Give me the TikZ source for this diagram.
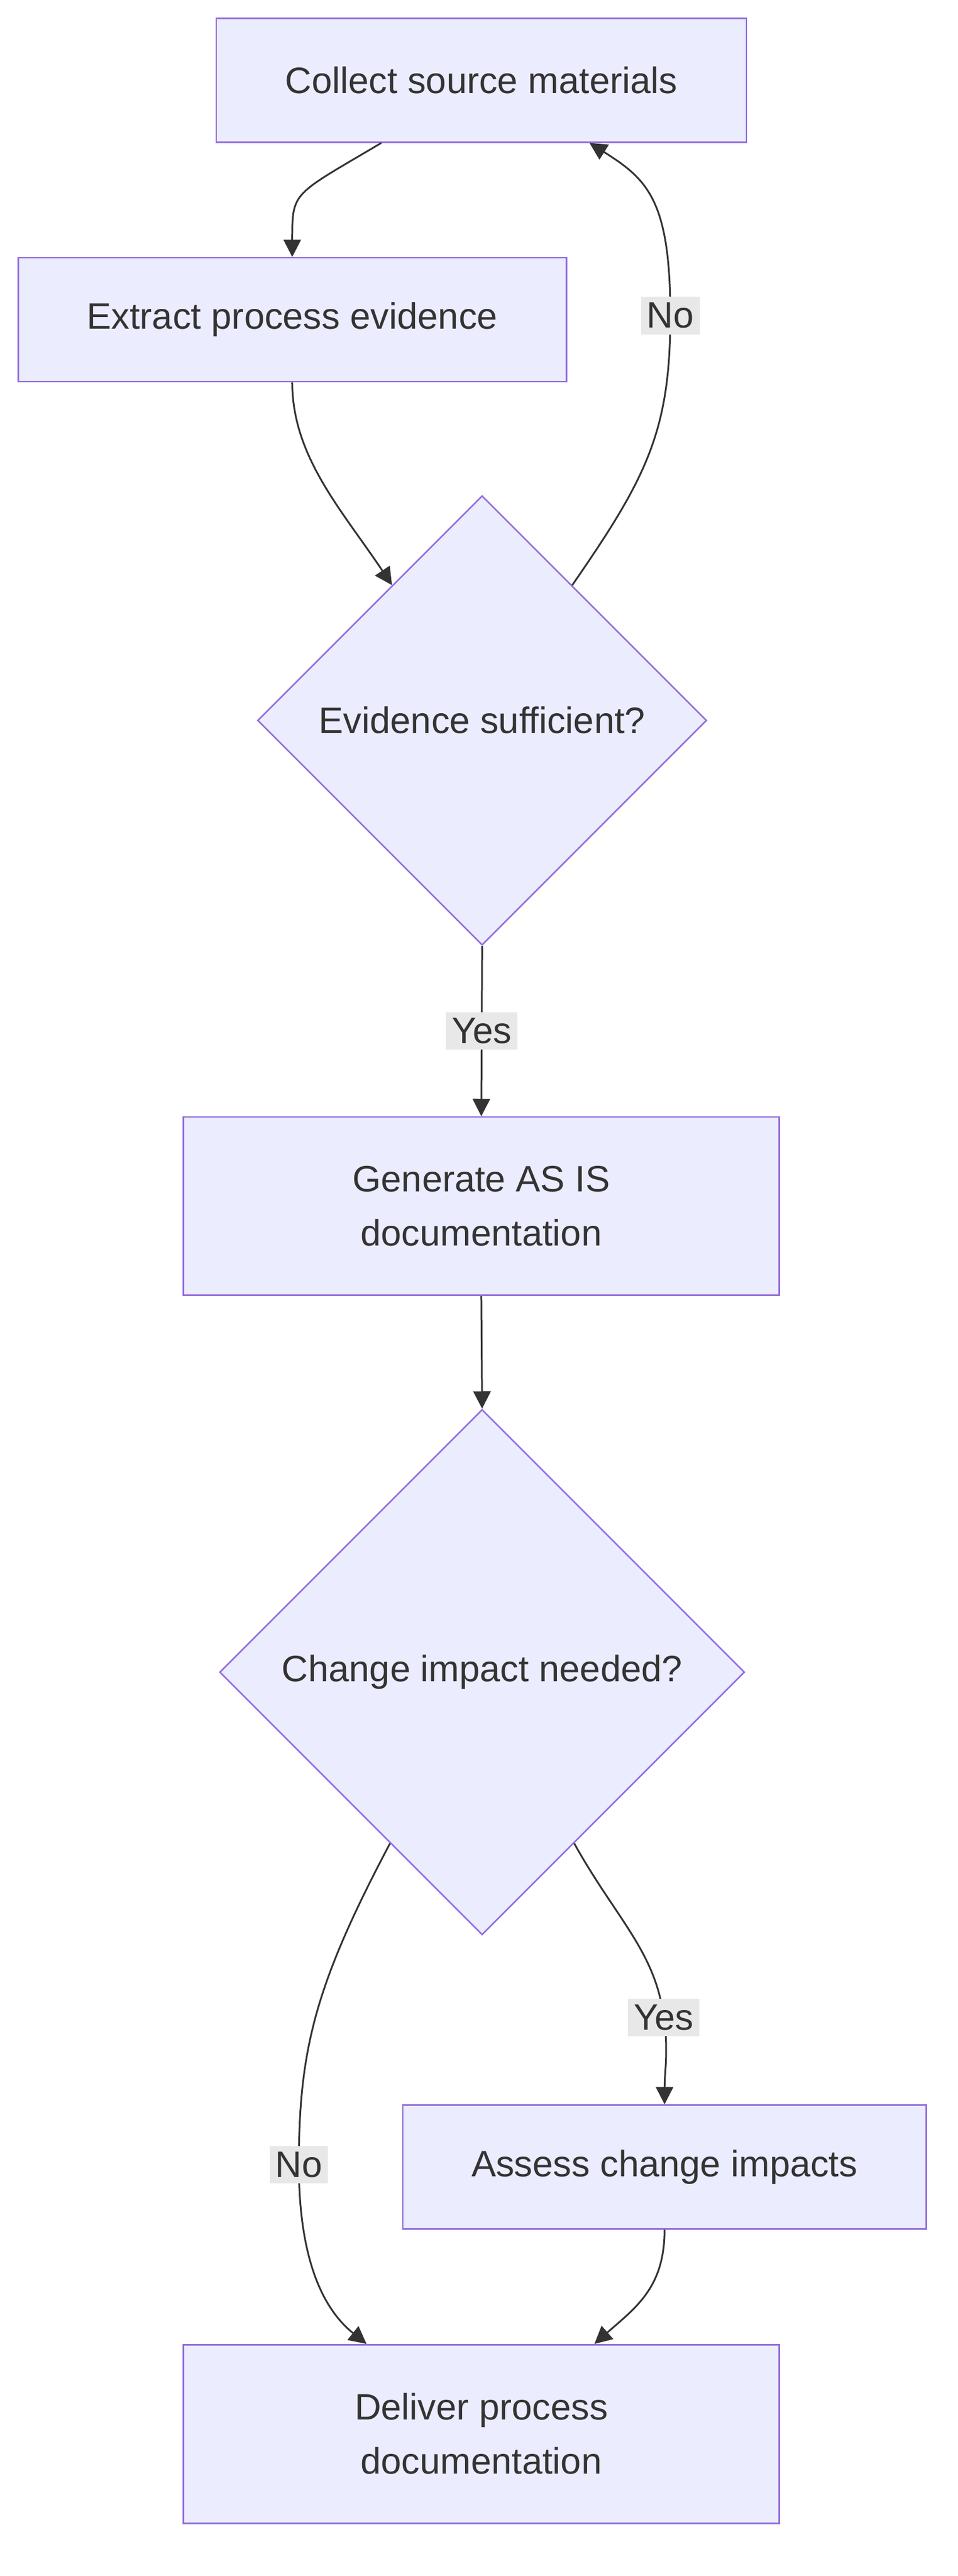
\documentclass[tikz,border=0pt]{standalone}
\usepackage{fontspec}
\setmainfont{Liberation Sans}
\usetikzlibrary{shapes.geometric,arrows.meta,calc}
\definecolor{boxfill}{HTML}{ECECFF}
\definecolor{boxline}{HTML}{9370DB}
\definecolor{edgeline}{HTML}{333333}
\definecolor{lblfill}{HTML}{E8E8E8}
\tikzset{
	procbox/.style={draw=boxline, fill=boxfill, inner sep=0pt, minimum height=2.25cm, align=center, text=edgeline, line width=0.8pt},
	decide/.style={diamond, draw=boxline, fill=boxfill, inner sep=0pt, text=edgeline, line width=0.8pt},
	flow/.style={-{Triangle[length=9pt,width=9pt]}, draw=edgeline, line width=0.9pt},
	lbl/.style={fill=lblfill, inner sep=3pt, text=edgeline}
}
\begin{document}
\begin{tikzpicture}[x=0.03cm, y=-0.03cm, font=\fontsize{19}{28}\selectfont]
		\useasboundingbox (0,0) rectangle (580,1559);
		\node[procbox, minimum width=9.63cm] (collect) at (291.5,48.5) {Collect source materials};
		\node[procbox, minimum width=9.96cm] (extract) at (177,193.5) {Extract process evidence};
		\node[decide, minimum size=8.16cm] (suff) at (292,436) {Evidence sufficient?};
		\node[procbox, minimum width=10.83cm, minimum height=3.24cm] (asis) at (291.5,730) {Generate AS IS\\ documentation};
		\node[decide, minimum size=9.54cm] (impact) at (292,1012) {Change impact needed?};
		\node[procbox, minimum width=9.51cm] (assess) at (402.5,1311.5) {Assess change impacts};
		\node[procbox, minimum width=10.83cm, minimum height=3.24cm] (deliver) at (291.5,1473) {Deliver process\\ documentation};
		% connectors
		\draw[flow] ([xshift=-1.815cm]collect.south) .. controls +(-54,32) and +(0,-40) .. (extract.north);
		\draw[flow] (extract.south) .. controls +(0,45) and +(-30,-45) .. ($(suff.north)!0.4!(suff.west)$);
		\draw[flow] ($(suff.north)!0.4!(suff.east)$) .. controls +(45,-65) and +(0,70) .. (406,191) node[lbl] {No} .. controls +(0,-70) and +(35,22) .. ([xshift=1.965cm]collect.south);
		\draw[flow] (suff.south) -- node[lbl] {Yes} (asis.north);
		\draw[flow] (asis.south) -- (impact.north);
		\draw[flow] ($(impact.south)!0.35!(impact.east)$) .. controls +(25,45) and +(-5,-40) .. (402,1221) node[lbl] {Yes} .. controls +(3,20) and +(0,-20) .. (assess.north);
		\draw[flow] ($(impact.south)!0.35!(impact.west)$) .. controls +(-45,85) and +(0,-70) .. (181,1310) node[lbl] {No} .. controls +(0,60) and +(-25,-20) .. ([xshift=-2.085cm]deliver.north);
		\draw[flow] (assess.south) .. controls +(0,35) and +(25,-22) .. ([xshift=2.055cm]deliver.north);
	\end{tikzpicture}
\end{document}
